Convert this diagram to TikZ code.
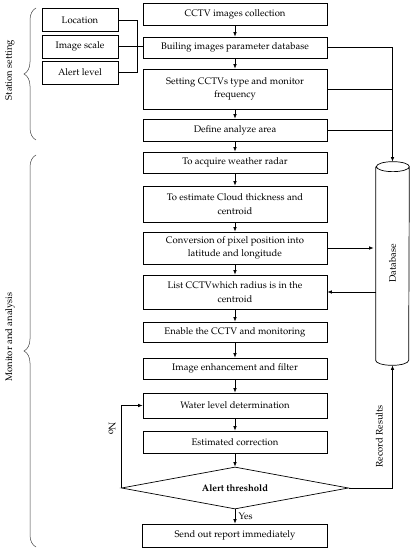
\documentclass[tikz,border=0pt]{standalone}
\usepackage[T1]{fontenc}
\usepackage{mathpazo}
\usetikzlibrary{arrows.meta,shapes.geometric,decorations.pathreplacing}
\tikzset{
every picture/.style={
line width=0.7pt
},
stepbox/.style={draw, minimum width=184pt, align=center, inner sep=2pt},
sidebox/.style={draw, minimum width=76pt, minimum height=23pt, inner sep=2pt},
decision/.style={draw, diamond, shape aspect=5.4, minimum width=227pt, minimum height=42pt, inner sep=0pt, font=\fontsize{9.5}{13.5}\selectfont\bfseries},
dbbox/.style={minimum width=33pt, minimum height=203pt, inner sep=0pt},
bracelabel/.style={rotate=90, inner sep=0pt},
sidebrace/.style={decorate, decoration={brace, amplitude=12pt}, line width=0.5pt, black!75}
}

\begin{document}
\begin{tikzpicture}[x=1pt, y=1pt, >={Latex[length=4.5pt,width=3.6pt]}, font=\fontsize{9.5}{13.5}\selectfont]
\useasboundingbox (0,0) rectangle (413,550);

% station setting
\foreach \n/\y/\t in {loc/530/Location, scale/503.5/Image scale, alert/477.5/Alert level}{
  \node[sidebox] (\n) at (80,\y) {\t};
}
\node[stepbox, minimum height=22pt] (c1) at (235,536) {CCTV images collection};
\node[stepbox, minimum height=21pt] (c2) at (235,502.5) {Builing images parameter database};
\node[stepbox, minimum height=40pt] (c3) at (235,461) {Setting CCTVs type and monitor\\frequency};
\node[stepbox, minimum height=22pt] (c4) at (235,420) {Define analyze area};

% monitor and analysis
\node[stepbox, minimum height=21pt] (c5) at (235,387.5) {To acquire weather radar};
\node[stepbox, minimum height=36pt] (c6) at (235,346) {To estimate Cloud thickness and\\centroid};
\node[stepbox, minimum height=32pt] (c7) at (235,302) {Conversion of pixel position into\\latitude and longitude};
\node[stepbox, minimum height=34pt] (c8) at (235,258) {List CCTVwhich radius is in the\\centroid};
\node[stepbox, minimum height=20pt] (c9) at (235,218) {Enable the CCTV and monitoring};
\node[stepbox, minimum height=21pt] (c10) at (235,181.5) {Image enhancement and filter};
\node[stepbox, minimum height=25pt] (c11) at (235,144.5) {Water level determination};
\node[stepbox, minimum height=22pt] (c12) at (235,108) {Estimated correction};
\node[decision] (thr) at (235,62) {Alert threshold};
\node[stepbox, minimum width=185pt, minimum height=23pt] (c13) at (235,14.5) {Send out report immediately};

% database
\node[dbbox] (db) at (392.5,286.5) {\rotatebox{90}{Database}};
\draw ([yshift=-5pt]db.north west) -- ([yshift=5pt]db.south west)
  arc[start angle=180, end angle=360, x radius=16.5pt, y radius=5pt]
  -- ([yshift=-5pt]db.north east)
  arc[start angle=0, end angle=360, x radius=16.5pt, y radius=5pt];

\draw (loc.east) -- ++(19pt,0) |- (alert.east);
\draw (scale.east) -- (scale.east -| c2.west);

\foreach \a/\b in {c1/c2, c2/c3, c3/c4, c4/c5, c5/c6, c6/c7, c7/c8, c8/c9, c9/c10, c10/c11, c11/c12, c12/thr}{
  \draw [->] (\a) -- (\b);
}
\draw [->] (thr) -- (c13) node[midway, right] (yes) {Yes};

\draw [->] (c2.east) -| (db.north);
\draw (c3.east) -- (c3.east -| db.north);
\draw (c4.east) -- (c4.east -| db.north);
\draw [->] (c7.east) -- ([xshift=-2pt]c7.east -| db.west);
\draw [->] (c8.east -| db.west) -- (c8.east);
\draw [->] (thr.east) -| (db.south) node[pos=0.71, rotate=90, above=6pt] (rec) {Record Results};
\draw [->] (thr.west) |- (c11.west) node[pos=0.36, rotate=-90, below=2pt] (no) {No};

% braces
\draw [sidebrace] (36,410) -- (36,542);
\node[bracelabel] (st) at (10,480) {Station setting};
\draw [sidebrace] (36,3) -- (36,395);
\node[bracelabel] (ma) at (10,213) {Monitor and analysis};
\end{tikzpicture}
\end{document}
